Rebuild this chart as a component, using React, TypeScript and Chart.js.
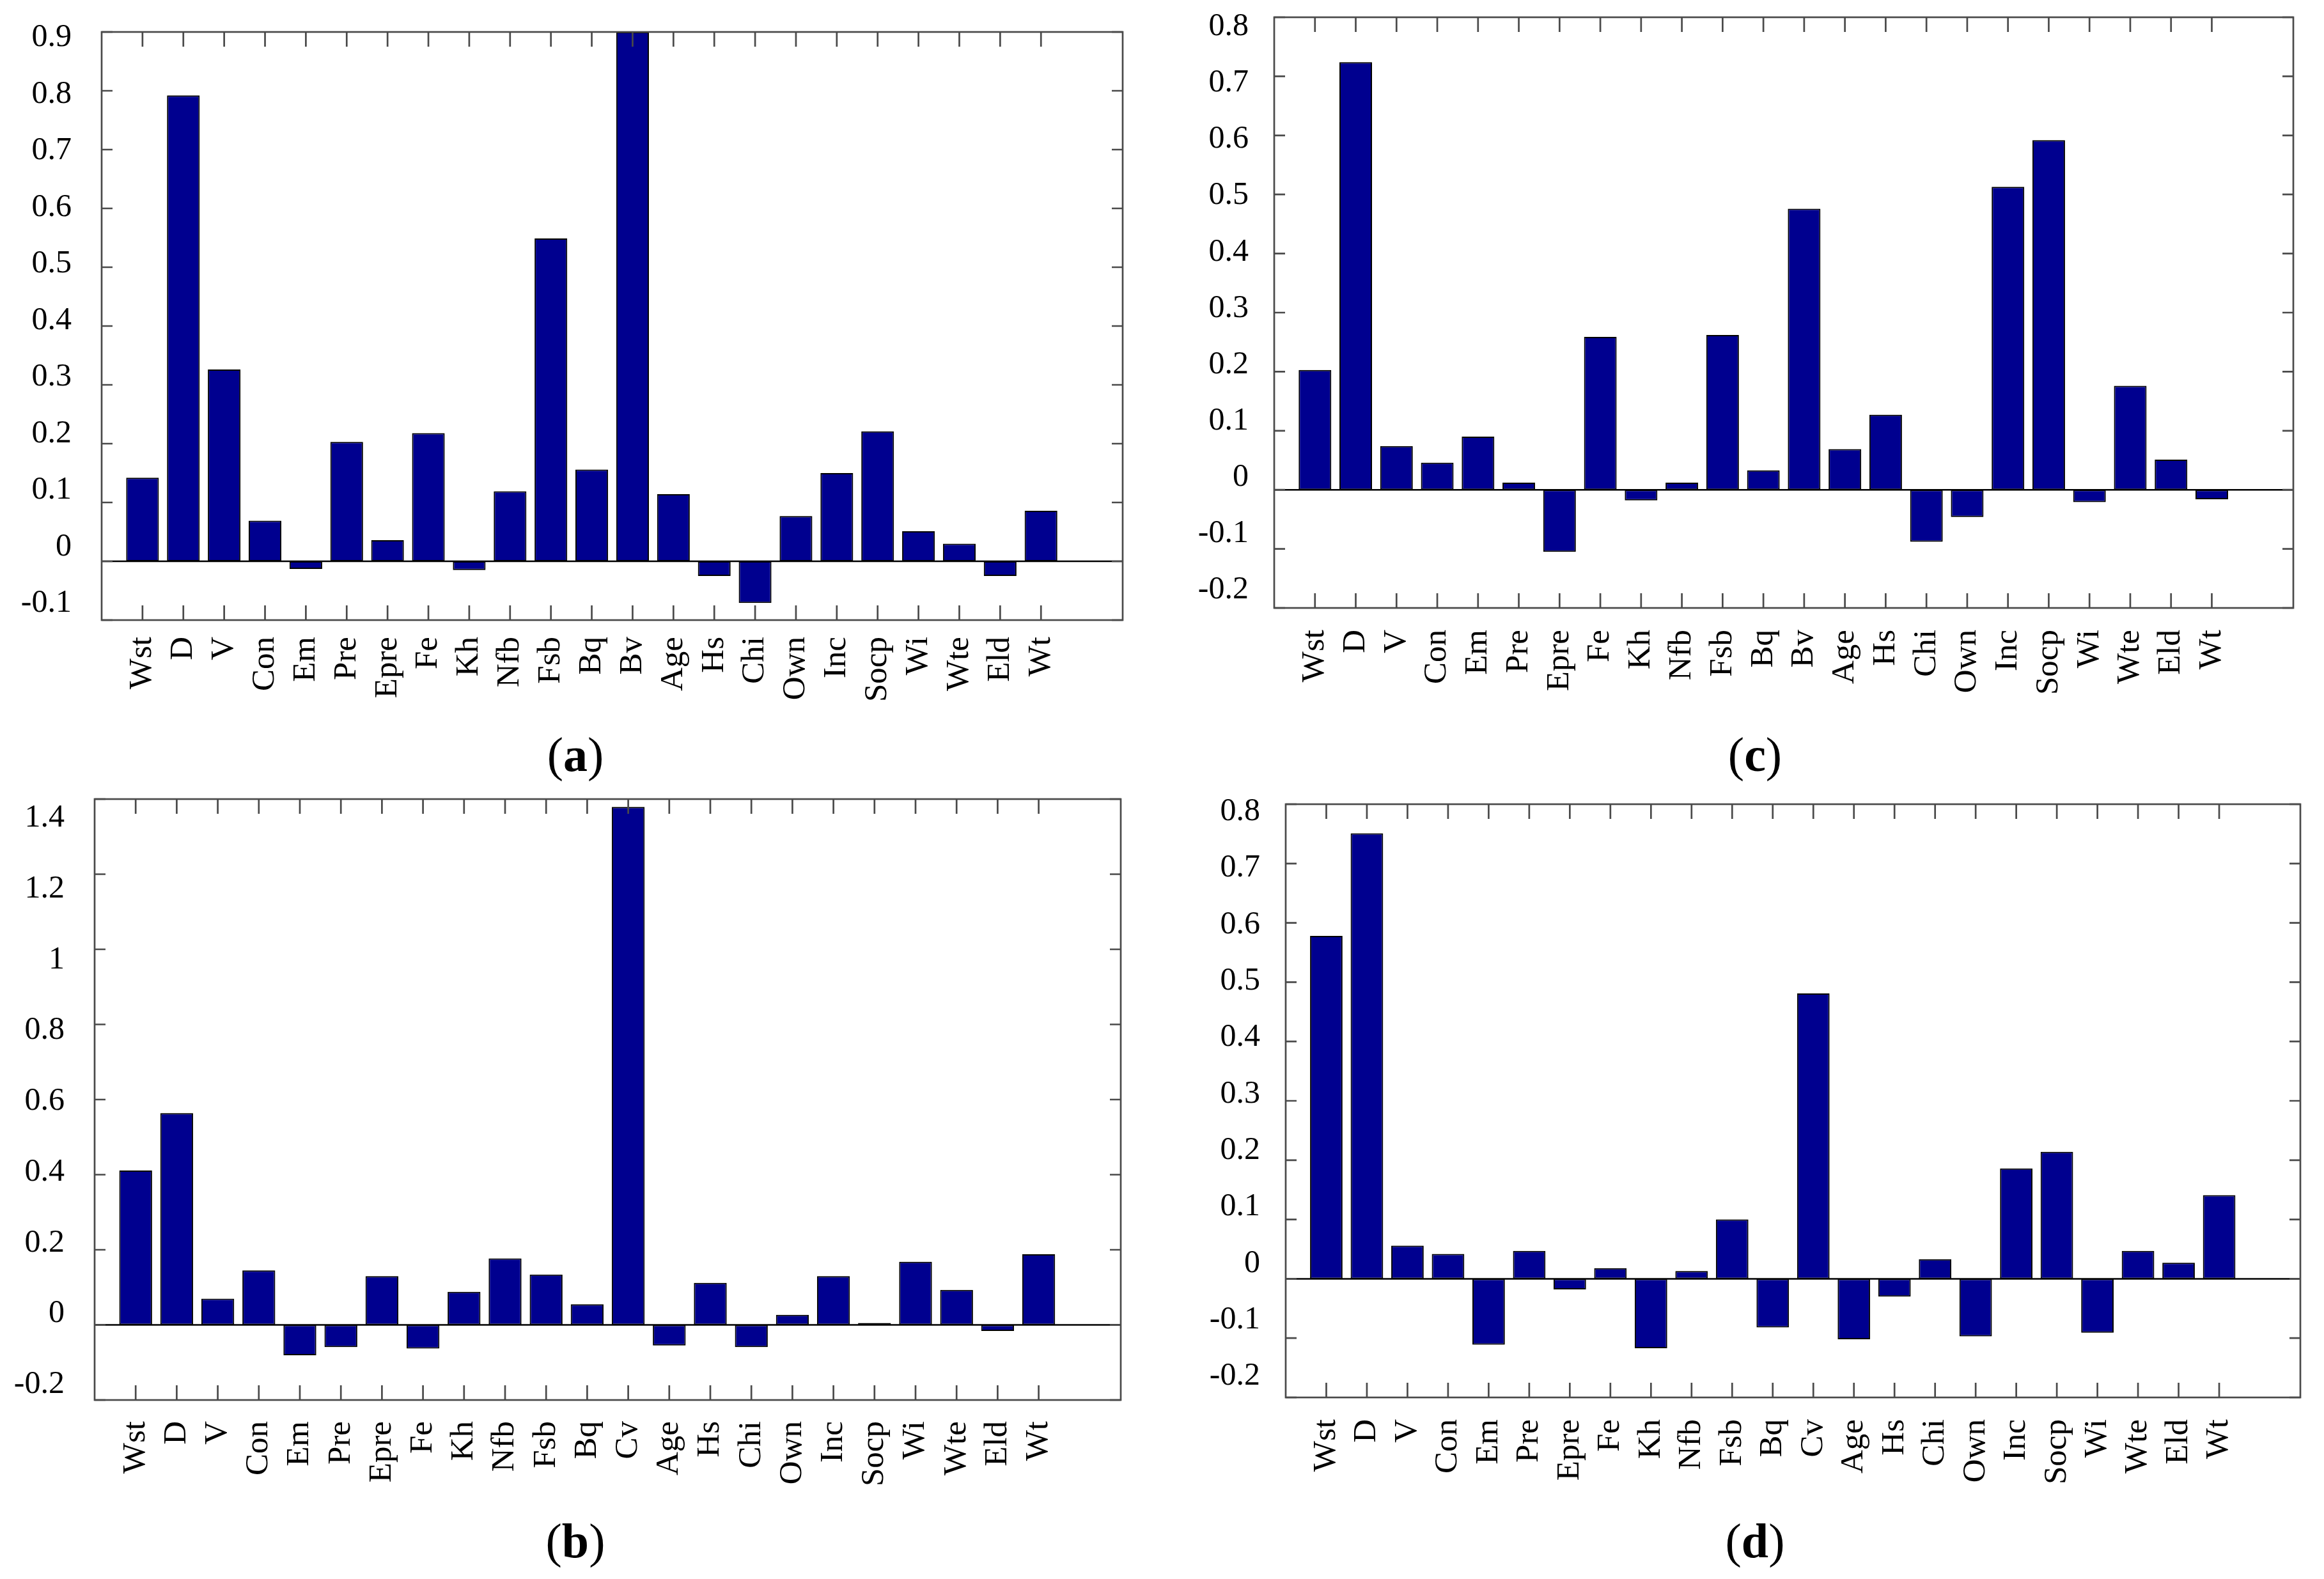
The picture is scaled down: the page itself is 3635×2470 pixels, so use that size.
import React, { useEffect, useRef } from "react";
import { Chart, registerables } from "chart.js";

Chart.register(...registerables);

// ---------- data ----------
const CATEGORIES_AC = ["Wst", "D", "V", "Con", "Em", "Pre", "Epre", "Fe", "Kh", "Nfb", "Fsb", "Bq", "Bv", "Age", "Hs", "Chi", "Own", "Inc", "Socp", "Wi", "Wte", "Eld", "Wt"];
const CATEGORIES_BD = ["Wst", "D", "V", "Con", "Em", "Pre", "Epre", "Fe", "Kh", "Nfb", "Fsb", "Bq", "Cv", "Age", "Hs", "Chi", "Own", "Inc", "Socp", "Wi", "Wte", "Eld", "Wt"];

const VALUES_A = [0.142, 0.792, 0.326, 0.069, -0.013, 0.203, 0.036, 0.218, -0.015, 0.119, 0.549, 0.156, 0.9, 0.114, -0.025, -0.071, 0.077, 0.15, 0.221, 0.051, 0.03, -0.025, 0.086];
const VALUES_B = [0.411, 0.564, 0.07, 0.145, -0.081, -0.059, 0.13, -0.063, 0.088, 0.177, 0.134, 0.055, 1.379, -0.055, 0.112, -0.059, 0.027, 0.13, 0.005, 0.168, 0.093, -0.016, 0.188];
const VALUES_C = [0.203, 0.724, 0.074, 0.046, 0.09, 0.012, -0.105, 0.259, -0.018, 0.012, 0.262, 0.033, 0.476, 0.069, 0.127, -0.088, -0.046, 0.513, 0.592, -0.021, 0.176, 0.051, -0.016];
const VALUES_D = [0.578, 0.751, 0.056, 0.042, -0.111, 0.047, -0.018, 0.018, -0.117, 0.013, 0.1, -0.082, 0.481, -0.102, -0.03, 0.033, -0.097, 0.186, 0.214, -0.091, 0.047, 0.027, 0.141];

const Y_TICKS_A = [-0.1, 0, 0.1, 0.2, 0.3, 0.4, 0.5, 0.6, 0.7, 0.8, 0.9];
const Y_TICKS_B = [-0.2, 0, 0.2, 0.4, 0.6, 0.8, 1, 1.2, 1.4];
const Y_TICKS_C = [-0.2, -0.1, 0, 0.1, 0.2, 0.3, 0.4, 0.5, 0.6, 0.7, 0.8];
const Y_TICKS_D = [-0.2, -0.1, 0, 0.1, 0.2, 0.3, 0.4, 0.5, 0.6, 0.7, 0.8];

const X_RANGE = [0, 25];

// ---------- style / layout ----------
const FONT = "'Liberation Serif', 'Times New Roman', serif";
const Y_FONT_SIZE = 50;
const X_FONT_SIZE = 51;
const TITLE_FONT_SIZE = 76;
const BAR_COLOR = "#00008F";
const AXIS_COLOR = "#4a4a4a";
const Y_AXIS_W = 160;
const X_AXIS_H = 230;
const PAD_T = 90;
const PAD_R = 40;
const Y_TICK_LEN = 17;
const X_TICK_LEN = 23;

type Area = { L: number; T: number; R: number; B: number };
type LabelLayout = { gap: number; first: number; last: number; xGap: number };

const framePlugin = {
  id: "frame",
  afterDatasetsDraw(chart: any, _args: any, opts: any) {
    const { ctx, chartArea: a, scales } = chart;
    const xs = scales.x;
    const ys = scales.y;
    ctx.save();
    // zero baseline
    const y0 = ys.getPixelForValue(0);
    ctx.strokeStyle = "#000";
    ctx.lineWidth = 2.5;
    ctx.beginPath();
    ctx.moveTo(a.left, y0);
    ctx.lineTo(a.right, y0);
    ctx.stroke();
    // box
    ctx.strokeStyle = AXIS_COLOR;
    ctx.lineWidth = 2.7;
    ctx.strokeRect(a.left, a.top, a.right - a.left, a.bottom - a.top);
    ctx.beginPath();
    for (const t of ys.ticks) {
      const p = ys.getPixelForValue(t.value);
      ctx.moveTo(a.left, p);
      ctx.lineTo(a.left + Y_TICK_LEN, p);
      ctx.moveTo(a.right, p);
      ctx.lineTo(a.right - Y_TICK_LEN, p);
    }
    for (const t of xs.ticks) {
      const p = xs.getPixelForValue(t.value);
      ctx.moveTo(p, a.bottom);
      ctx.lineTo(p, a.bottom - X_TICK_LEN);
      ctx.moveTo(p, a.top);
      ctx.lineTo(p, a.top + X_TICK_LEN);
    }
    ctx.stroke();

    // y tick labels (placed like the reference figure)
    const lay: LabelLayout = opts.layout;
    const h = a.bottom - a.top;
    const ratio = (h - lay.first + lay.last) / h;
    ctx.fillStyle = "#000";
    ctx.font = `${Y_FONT_SIZE}px ${FONT}`;
    ctx.textAlign = "right";
    ctx.textBaseline = "middle";
    for (const t of ys.ticks) {
      const p = ys.getPixelForValue(t.value);
      const ly = a.top + lay.first + (p - a.top) * ratio;
      ctx.fillText(opts.format(t.value), a.left - lay.gap, ly);
    }
    ctx.restore();
  },
};

function fmt(v: number) {
  const r = Math.round(v * 10) / 10;
  return String(r);
}

function Panel(props: {
  cats: string[];
  values: number[];
  yTicks: number[];
  area: Area;
  labels: LabelLayout;
  letter: string;
  titleX: number;
  titleY: number;
}) {
  const { cats, values, yTicks, area, labels, letter, titleX, titleY } = props;
  const ref = useRef<HTMLCanvasElement>(null);
  const cw = Y_AXIS_W + (area.R - area.L) + PAD_R;
  const ch = PAD_T + (area.B - area.T) + X_AXIS_H;

  useEffect(() => {
    if (!ref.current) return;
    const chart = new Chart(ref.current, {
      type: "bar",
      data: {
        datasets: [
          {
            data: values.map((v, i) => ({ x: i + 1, y: v })),
            backgroundColor: BAR_COLOR,
            borderColor: "#000000",
            borderWidth: 2,
            borderSkipped: false,
            barPercentage: 0.8,
            categoryPercentage: 1.0,
          } as any,
        ],
      },
      options: {
        animation: false,
        responsive: false,
        devicePixelRatio: 1,
        layout: { padding: { left: 0, top: PAD_T, right: PAD_R, bottom: 0 } },
        plugins: {
          legend: { display: false },
          tooltip: { enabled: false },
          frame: { layout: labels, format: fmt },
        } as any,
        scales: {
          x: {
            type: "linear",
            min: X_RANGE[0],
            max: X_RANGE[1],
            offset: false,
            grid: { display: false, offset: false },
            border: { display: false },
            afterBuildTicks: (s: any) => {
              s.ticks = cats.map((_, i) => ({ value: i + 1 }));
            },
            afterFit: (s: any) => {
              s.height = X_AXIS_H;
            },
            ticks: {
              autoSkip: false,
              minRotation: 90,
              maxRotation: 90,
              padding: labels.xGap,
              color: "#000",
              font: { family: FONT, size: X_FONT_SIZE },
              callback: (v: any) => cats[Math.round(v) - 1] ?? "",
            },
          },
          y: {
            type: "linear",
            min: yTicks[0],
            max: yTicks[yTicks.length - 1],
            grid: { display: false },
            border: { display: false },
            afterBuildTicks: (s: any) => {
              s.ticks = yTicks.map((v) => ({ value: v }));
            },
            afterFit: (s: any) => {
              s.width = Y_AXIS_W;
            },
            ticks: { display: false },
          },
        } as any,
      },
      plugins: [framePlugin],
    });
    return () => chart.destroy();
  }, []);

  return (
    <>
      <canvas
        ref={ref}
        width={cw}
        height={ch}
        style={{
          position: "absolute",
          left: area.L - Y_AXIS_W,
          top: area.T - PAD_T,
          width: cw,
          height: ch,
        }}
      />
      <div
        style={{
          position: "absolute",
          left: titleX - 200,
          top: titleY - TITLE_FONT_SIZE / 2,
          width: 400,
          textAlign: "center",
          fontFamily: FONT,
          fontSize: TITLE_FONT_SIZE,
          lineHeight: `${TITLE_FONT_SIZE}px`,
          color: "#000",
        }}
      >
        (<b>{letter}</b>)
      </div>
    </>
  );
}

export default function App() {
  return (
    <div
      style={{
        position: "absolute",
        left: 0,
        top: 0,
        width: 3635,
        height: 2470,
        background: "#fff",
        overflow: "hidden",
      }}
    >
      <Panel cats={CATEGORIES_AC} values={VALUES_A} yTicks={Y_TICKS_A} area={{ L: 159, T: 50, R: 1756, B: 970 }} labels={{ gap: 47, first: 9, last: -26, xGap: 18 }} letter="a" titleX={900} titleY={1180} />
      <Panel cats={CATEGORIES_AC} values={VALUES_C} yTicks={Y_TICKS_C} area={{ L: 1993, T: 27, R: 3587, B: 951 }} labels={{ gap: 40, first: 15, last: -28, xGap: 26 }} letter="c" titleX={2745} titleY={1180} />
      <Panel cats={CATEGORIES_BD} values={VALUES_B} yTicks={Y_TICKS_B} area={{ L: 148, T: 1250, R: 1753, B: 2190 }} labels={{ gap: 47, first: 30, last: -24, xGap: 25 }} letter="b" titleX={900} titleY={2410} />
      <Panel cats={CATEGORIES_BD} values={VALUES_D} yTicks={Y_TICKS_D} area={{ L: 2011, T: 1258, R: 3598, B: 2186 }} labels={{ gap: 40, first: 12, last: -33, xGap: 26 }} letter="d" titleX={2745} titleY={2410} />
    </div>
  );
}
